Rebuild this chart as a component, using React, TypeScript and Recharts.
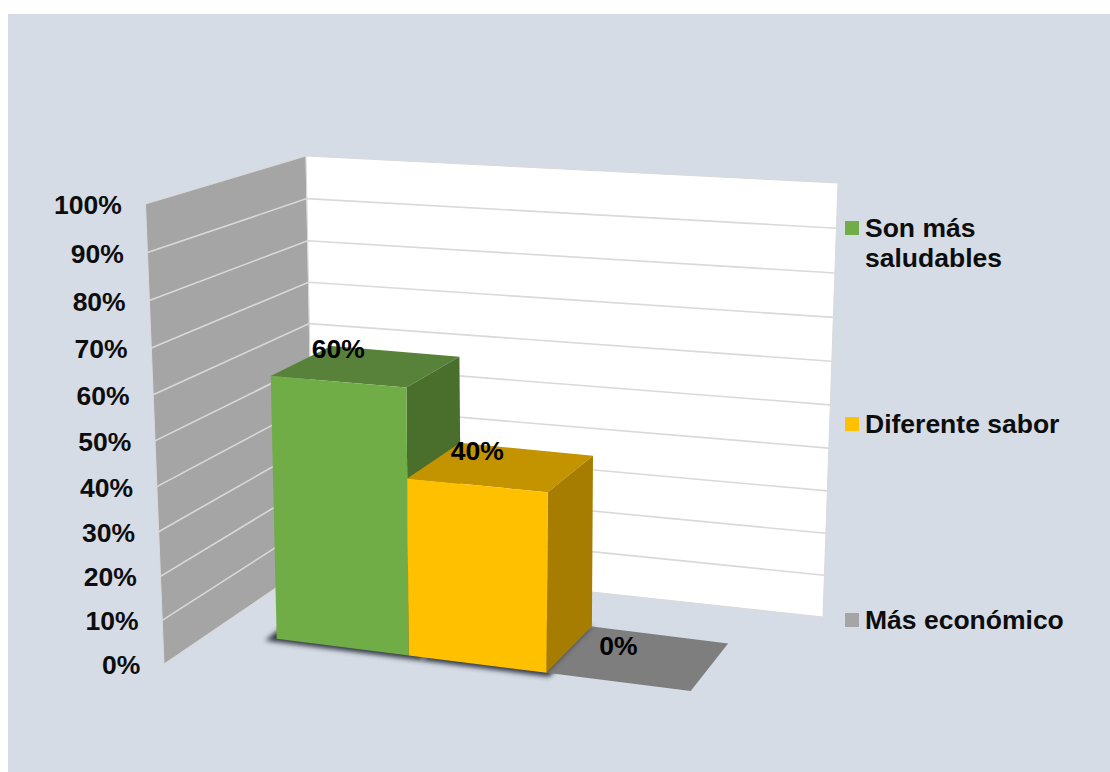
import React from 'react';
import { BarChart, Bar, XAxis, YAxis, Legend, LabelList, Customized } from 'recharts';

// Chart data
const categories = ['Preferencia'];
const seriesNames = ['Son más saludables', 'Diferente sabor', 'Más económico'];
const seriesValues = [60, 40, 0];
const axisTicks = [0, 10, 20, 30, 40, 50, 60, 70, 80, 90, 100];

// Per-series face colours: front, top, side
const frontColors = ['#70AD47', '#FFC000', '#A5A5A5'];
const topColors = ['#588239', '#C49300', '#7E7E7E'];
const sideColors = ['#4A6E2C', '#A67D00', '#6E6E6E'];

const rows = categories.map((name) => {
  const row: Record<string, string | number> = { name };
  seriesNames.forEach((s, i) => { row[s] = seriesValues[i]; });
  return row;
});

// Chart box on the page
const LEFT = 8;
const TOP = 14;
const WIDTH = 1102;
const HEIGHT = 758;
const MARGIN = { top: 180, right: 419, bottom: 92, left: 229 };
const AXIS_W = 40;
const PLOT_X = MARGIN.left + AXIS_W;
const PLOT_W = WIDTH - PLOT_X - MARGIN.right;
const PLOT_Y = MARGIN.top;
const PLOT_H = HEIGHT - MARGIN.top - MARGIN.bottom;

type P = [number, number];
const at = (x: number, y: number): P => [x - LEFT, y - TOP];

// Perspective map from the unit square onto a quadrilateral
function quad(p00: P, p10: P, p11: P, p01: P) {
  const dx1 = p10[0] - p11[0], dx2 = p01[0] - p11[0], sx = p00[0] - p10[0] + p11[0] - p01[0];
  const dy1 = p10[1] - p11[1], dy2 = p01[1] - p11[1], sy = p00[1] - p10[1] + p11[1] - p01[1];
  const den = dx1 * dy2 - dx2 * dy1;
  const g = (sx * dy2 - dx2 * sy) / den;
  const h = (dx1 * sy - sx * dy1) / den;
  const a = p10[0] - p00[0] + g * p10[0], b = p01[0] - p00[0] + h * p01[0], c = p00[0];
  const d = p10[1] - p00[1] + g * p10[1], e = p01[1] - p00[1] + h * p01[1], f = p00[1];
  return (u: number, v: number): P => {
    const w = g * u + h * v + 1;
    return [(a * u + b * v + c) / w, (d * u + e * v + f) / w];
  };
}

// Walls of the 3D box and the plane holding the bar fronts
const leftWall = quad(at(164, 664), at(314, 562), at(306, 156), at(145.5, 204));
const backWall = quad(at(314, 562), at(823, 617), at(838, 183), at(306, 156));
const barPlane = quad(at(276.7, 638.7), at(690.7, 691), at(701, 216), at(266.5, 192.7));
const VANISH = at(1370, -170);
const BAR_DEPTH = 0.055;
const toBack = (p: P): P => [p[0] + (VANISH[0] - p[0]) * BAR_DEPTH, p[1] + (VANISH[1] - p[1]) * BAR_DEPTH];

const poly = (pts: P[]) => pts.map((p) => `${p[0].toFixed(1)},${p[1].toFixed(1)}`).join(' ');
const uOf = (x: number) => (x - PLOT_X) / PLOT_W;
const vOf = (y: number) => (PLOT_Y + PLOT_H - y) / PLOT_H;

const FONT = '"Liberation Sans", Arial, sans-serif';
const FONT_SIZE = 26.5;
const GRID = '#D9D9D9';

function Walls() {
  return (
    <g>
      <defs>
        <filter id="soft" x="-20%" y="-40%" width="140%" height="180%">
          <feGaussianBlur stdDeviation="2.4" />
        </filter>
      </defs>
      <polygon points={poly([leftWall(0, 0), leftWall(1, 0), leftWall(1, 1), leftWall(0, 1)])} fill="#A5A5A5" stroke={GRID} strokeWidth={1} />
      <polygon points={poly([backWall(0, 0), backWall(1, 0), backWall(1, 1), backWall(0, 1)])} fill="#FFFFFF" stroke={GRID} strokeWidth={1} />
      {axisTicks.filter((t) => t > 0 && t < 100).map((t) => (
        <polyline
          key={t}
          points={poly([leftWall(0, t / 100), leftWall(1, t / 100), backWall(1, t / 100)])}
          fill="none"
          stroke={GRID}
          strokeWidth={1.6}
        />
      ))}
    </g>
  );
}

// One box: footprint shadow, then the visible faces. A zero value leaves only the lid.
function Box3D(props: any) {
  const { x, y, width, height, index } = props;
  const s = props.seriesIndex as number;
  const u0 = uOf(x);
  const u1 = uOf(x + width);
  const v0 = vOf(y + height);
  const v1 = vOf(y);
  const fl = barPlane(u0, v0), fr = barPlane(u1, v0), tl = barPlane(u0, v1), tr = barPlane(u1, v1);
  const lid = [tl, tr, toBack(tr), toBack(tl)];
  if (v1 - v0 < 0.001) {
    const clip = `lid-${s}-${index}`;
    const backLeft = toBack(tl);
    return (
      <g>
        <clipPath id={clip}><polygon points={poly(lid)} /></clipPath>
        <polygon points={poly(lid)} fill={topColors[s]} />
        <g clipPath={`url(#${clip})`}>
          <polygon
            points={poly([tl, backLeft, [backLeft[0] - 8, backLeft[1]], [tl[0] - 8, tl[1]]])}
            fill="#444"
            filter="url(#soft)"
          />
        </g>
      </g>
    );
  }
  // Neighbouring shadows meet under the second box so the strip along the floor stays even
  const startInset = s === 0 ? -0.03 : 0.03;
  const endOver = s === 0 ? 0.03 : 0.006;
  const drop = 0.008;
  const shadow = [
    barPlane(u0 + startInset, v0 - drop),
    barPlane(u1 + endOver, v0 - drop),
    toBack(barPlane(u1 + Math.min(endOver, 0.014), v0 - 0.004)),
    toBack(barPlane(u0 + startInset, v0)),
  ];
  return (
    <g>
      <polygon points={poly(shadow)} fill="#333945" filter="url(#soft)" />
      <polygon points={poly(lid)} fill={topColors[s]} />
      <polygon points={poly([fr, toBack(fr), toBack(tr), tr])} fill={sideColors[s]} />
      <polygon points={poly([fl, fr, tr, tl])} fill={frontColors[s]} />
    </g>
  );
}

function BarLabel(props: any) {
  const { x, y, width, value } = props;
  const v = vOf(y);
  const [px, py] = barPlane(uOf(x + width / 2), v);
  return (
    <text x={px + 0.5} y={py - 36 + 5 * v} textAnchor="middle" dominantBaseline="central" fontFamily={FONT} fontWeight={700} fontSize={FONT_SIZE} fill="#000">
      {`${value}%`}
    </text>
  );
}

// Axis labels follow the near edge of the side wall
function WallTick(props: any) {
  const { y, payload } = props;
  const [ex, ey] = leftWall(0, vOf(y));
  return (
    <text x={ex - 23.7} y={ey + 1} textAnchor="end" dominantBaseline="central" fontFamily={FONT} fontWeight={700} fontSize={FONT_SIZE} fill="#0D0D0D">
      {`${payload.value}%`}
    </text>
  );
}

const legendTops = [213, 409, 605];

function LegendBlock(props: any) {
  const items = props.payload || [];
  return (
    <div style={{ position: 'relative', width: 0, height: 0 }}>
      {items.map((item: any, i: number) => (
        <div key={item.value} style={{ position: 'absolute', left: 845 - LEFT, top: legendTops[i] - TOP, display: 'flex', width: 240 }}>
          <span style={{ width: 14, height: 14, marginTop: 8, marginRight: 6, background: frontColors[i], flex: 'none' }} />
          <span style={{ font: `700 ${FONT_SIZE}px/30px ${FONT}`, color: '#0D0D0D', maxWidth: i === 0 ? 160 : 210, whiteSpace: i === 0 ? 'normal' : 'nowrap' }}>
            {item.value}
          </span>
        </div>
      ))}
    </div>
  );
}

export default function App() {
  return (
    <div style={{ position: 'absolute', left: LEFT, top: TOP, width: WIDTH, height: HEIGHT, background: '#D6DCE5' }}>
      <BarChart width={WIDTH} height={HEIGHT} data={rows} margin={MARGIN} barCategoryGap={0} barGap={0} style={{ overflow: 'visible' }}>
        <Customized component={Walls} />
        <XAxis dataKey="name" hide />
        <YAxis
          width={AXIS_W}
          domain={[0, 100]}
          ticks={axisTicks}
          interval={0}
          axisLine={false}
          tickLine={false}
          tick={<WallTick />}
        />
        <Legend
          content={<LegendBlock />}
          itemSorter={null}
          wrapperStyle={{ left: 0, top: 0, width: 0, height: 0 }}
          layout="vertical"
          align="right"
          verticalAlign="top"
        />
        {seriesNames.map((name, i) => (
          <Bar
            key={name}
            dataKey={name}
            fill={frontColors[i]}
            isAnimationActive={false}
            shape={(p: any) => <Box3D {...p} seriesIndex={i} />}
          >
            <LabelList dataKey={name} content={<BarLabel />} />
          </Bar>
        ))}
      </BarChart>
    </div>
  );
}
